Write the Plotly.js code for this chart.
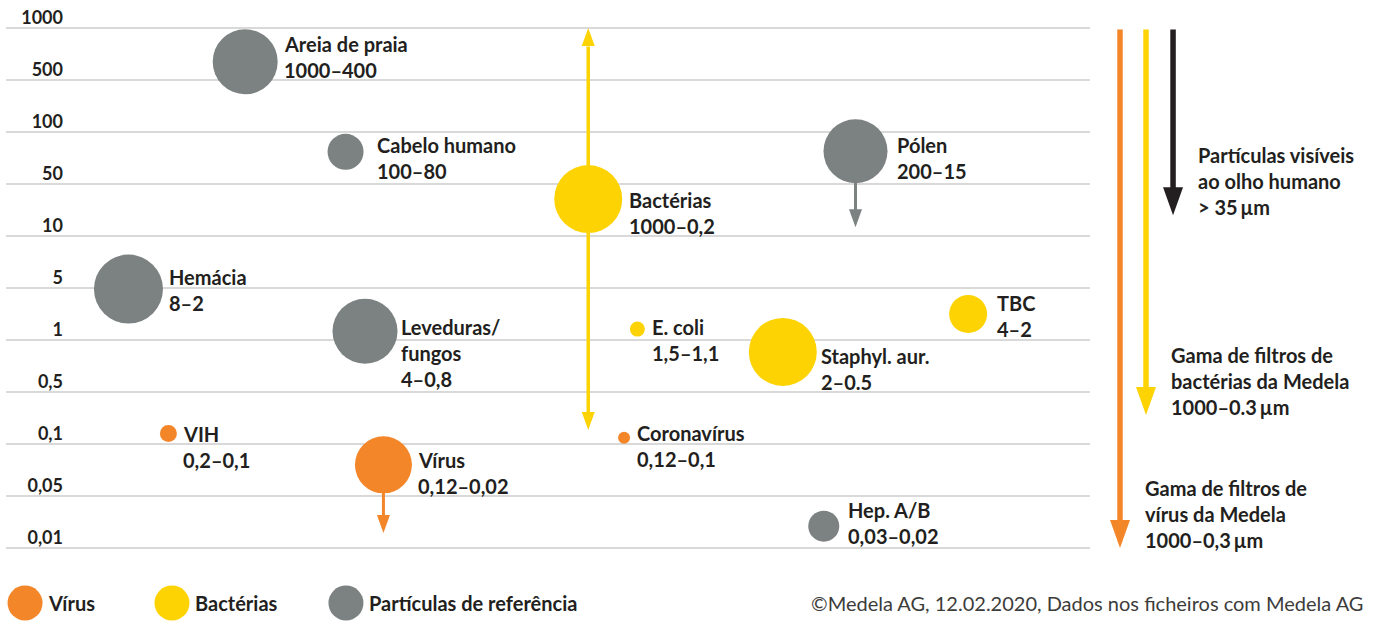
<!DOCTYPE html>
<html><head><meta charset="utf-8">
<script src="https://cdn.plot.ly/plotly-3.0.1.min.js"></script>
<style>html,body{margin:0;padding:0;background:#fff}#chart{width:1375px;height:621px}</style>
</head><body><div id="chart"></div>
<script>
// ---- data ----
const levelLabels = ['1000','500','100','50','10','5','1','0,5','0,1','0,05','0,01'];
const levelPos = [10,9,8,7,6,5,4,3,2,1,0];

const names  = ['Areia de praia','Cabelo humano','Bactérias','Pólen','Hemácia','Leveduras/\nfungos','E. coli','Staphyl. aur.','TBC','VIH','Vírus','Coronavírus','Hep. A/B'];
const ranges = ['1000–400','100–80','1000–0,2','200–15','8–2','4–0,8','1,5–1,1','2–0.5','4–2','0,2–0,1','0,12–0,02','0,12–0,1','0,03–0,02'];
const groups = ['ref','ref','bact','ref','ref','ref','bact','bact','bact','virus','virus','virus','ref'];
const xPos   = [17.5, 27.3, 51.0, 77.1, 6.1, 29.2, 55.8, 70.0, 88.1, 10.0, 31.0, 54.5, 74.0];
const yPos   = [9.35, 7.62, 6.71, 7.63, 4.98, 4.17, 4.21, 3.77, 4.50, 2.20, 1.60, 2.12, 0.42];
const sizes  = [65, 36, 68, 64, 69, 65, 15, 68, 38, 17, 57, 12, 31];

// range arrows: item index, top (level pos), bottom (level pos)
const arrowItem   = [2, 3, 10];
const arrowTop    = [10, null, null];
const arrowBottom = [2.27, 6.17, 0.29];

// filter ranges on the right
const filterTexts  = ['Gama de filtros de\nvírus da Medela\n1000–0,3\u2009µm',
                      'Gama de filtros de\nbactérias da Medela\n1000–0.3\u2009µm',
                      'Partículas visíveis\nao olho humano\n> 35\u2009µm'];
const filterKeys   = ['virus','bact','eye'];
const filterTop    = [10, 10, 10];
const filterBottom = [0, 2.56, 6.4];

const legendKeys  = ['virus','bact','ref'];
const legendNames = ['Vírus','Bactérias','Partículas de referência'];
const sourceText  = '©Medela AG, 12.02.2020, Dados nos ficheiros com Medela AG';

// ---- style / layout ----
const colors = {virus:'#F4862A', bact:'#FDD303', ref:'#7C8281', eye:'#231F20'};
const textColor = '#231F20';
const FONT = 'Lato, "Open Sans", sans-serif';
const LABEL_SIZE = 20;
const labelDx = [6, 13, 7, 9, 6, 3, 7, 4, 10, 6, 6, 7, 9];
const labelDy = [-18, -7, 1, -6, -12, -4, -2, 4, -11, 0, -5, -5, -16];
const LINE = 26;
const filterX = [1.0293, 1.0547, 1.0811];
const legendX = [-0.0400, 0.1035, 0.2734];
const legendY = -0.0507;

const traces = ['virus','bact','ref'].map(g => {
  const idx = groups.map((v,i)=>v===g?i:-1).filter(i=>i>=0);
  return {
    type:'scatter', mode:'markers', showlegend:false, hoverinfo:'text',
    x: idx.map(i=>xPos[i]), y: idx.map(i=>yPos[i]),
    text: idx.map(i=>names[i].replace('\n',' ')+' '+ranges[i]),
    marker:{size: idx.map(i=>sizes[i]), color: colors[g], line:{width:0}, opacity:1},
    cliponaxis:false
  };
});

const shapes = [];
const annotations = [];
const boldFont = (sz,c)=>({family:FONT, size:sz, color:c||textColor, weight:700});

levelPos.forEach(v => shapes.push({type:'line', layer:'below', xref:'paper', yref:'y',
  x0:-0.0586, x1:1, y0:v, y1:v, line:{color:'#CDCDCD', width:1.5}}));

// bubble labels
names.forEach((n,i) => {
  const lines = n.split('\n').concat([ranges[i]]);
  lines.forEach((t,k) => annotations.push({
    x:xPos[i], y:yPos[i], xref:'x', yref:'y', text:t, showarrow:false,
    xanchor:'left', yanchor:'middle', xshift: sizes[i]/2 + labelDx[i] - 2,
    yshift: -(labelDy[i] + LINE*k), font: boldFont(LABEL_SIZE)
  }));
});

// arrowhead helper (pixel path anchored at tip)
function head(xref, x, y, dir, w, len, color){
  const h = w/2;
  const path = dir==='down' ? `M${-h},${len} L${h},${len} L0,0 Z` : `M${-h},${-len} L${h},${-len} L0,0 Z`;
  shapes.push({type:'path', xref:xref, yref:'y', xsizemode:'pixel', ysizemode:'pixel',
    xanchor:x, yanchor:y, path:path, fillcolor:color, line:{width:0}, layer:'above'});
}

// range arrows
arrowItem.forEach((it,j) => {
  const g = groups[it]; const c = g==='ref' ? colors.ref : colors[g];
  const both = arrowTop[j] !== null;
  const len = 18, w = 13;
  annotations.push({x:xPos[it], y:arrowBottom[j], ax:xPos[it], ay: both?arrowTop[j]:yPos[it],
    xref:'x', yref:'y', axref:'x', ayref:'y', text:'', showarrow:true, arrowhead:0,
    arrowwidth: both?3.5:3, arrowcolor:c, standoff:len-1, startstandoff: both?len-1:sizes[it]/2-2});
  head('x', xPos[it], arrowBottom[j], 'down', w, len, c);
  if(both) head('x', xPos[it], arrowTop[j], 'up', w, len, c);
});

// filter arrows
filterKeys.forEach((k,j) => {
  const c = colors[k];
  annotations.push({x:filterX[j], y:filterBottom[j], ay:filterTop[j],
    xref:'paper', yref:'y', axref:'pixel', ayref:'y', ax:0, text:'', showarrow:true, arrowhead:0,
    arrowwidth:5.5, arrowcolor:c, standoff:27});
  head('paper', filterX[j], filterBottom[j], 'down', 20, 28, c);
  const lines = filterTexts[j].split('\n');
  lines.forEach((t,m) => annotations.push({x:filterX[j], y:filterBottom[j], xref:'paper', yref:'y',
    text:t, showarrow:false, xanchor:'left', yanchor:'middle', xshift:23,
    yshift: 8 + LINE*(lines.length-1-m), font: boldFont(LABEL_SIZE)}));
});

// legend
legendKeys.forEach((k,j) => {
  shapes.push({type:'circle', xref:'paper', yref:'paper', xsizemode:'pixel', ysizemode:'pixel',
    xanchor:legendX[j], yanchor:legendY, x0:-17.5, x1:17.5, y0:-17.5, y1:17.5,
    fillcolor:colors[k], line:{width:0}});
  annotations.push({x:legendX[j], y:legendY, xref:'paper', yref:'paper', text:legendNames[j],
    showarrow:false, xanchor:'left', yanchor:'middle', xshift:21, font: boldFont(LABEL_SIZE)});
});
annotations.push({x:1.2686, y:legendY, xref:'paper', yref:'paper', text:sourceText, showarrow:false,
  xanchor:'right', yanchor:'middle', font:{family:FONT, size:20, color:'#3C3C3B', weight:400}});

const layout = {
  width:1375, height:621, margin:{l:66, r:285, t:2, b:47},
  paper_bgcolor:'#fff', plot_bgcolor:'rgba(0,0,0,0)',
  xaxis:{range:[0,100], visible:false, fixedrange:true},
  yaxis:{range:[-0.5,10.5], tickvals:levelPos, ticktext:levelLabels, showgrid:false, zeroline:false,
    showline:false, ticks:'', ticklabelshift:-10, ticklabelstandoff:2, tickfont: boldFont(18), fixedrange:true},
  shapes: shapes, annotations: annotations, showlegend:false
};
Plotly.newPlot('chart', traces, layout, {displayModeBar:false, staticPlot:true});
</script></body></html>
